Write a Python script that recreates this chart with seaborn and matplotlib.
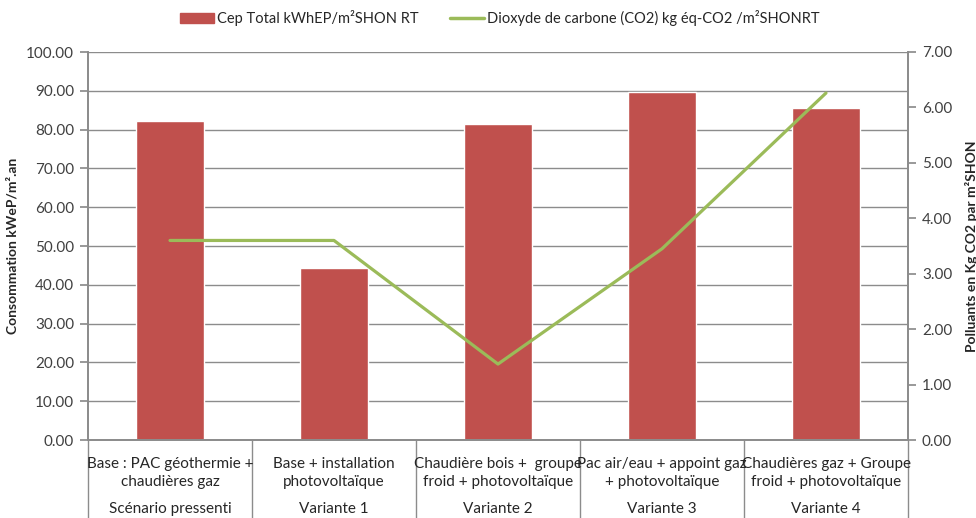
import matplotlib
matplotlib.use("Agg")
import matplotlib.pyplot as plt
import seaborn as sns
import pandas as pd
from matplotlib.lines import Line2D
from matplotlib.patches import Patch

# data
scenarios = ["Base : PAC géothermie +\nchaudières gaz",
             "Base + installation\nphotovoltaïque",
             "Chaudière bois +  groupe\nfroid + photovoltaïque",
             "Pac air/eau + appoint gaz\n+ photovoltaïque",
             "Chaudières gaz + Groupe\nfroid + photovoltaïque"]
groups = ["Scénario pressenti", "Variante 1", "Variante 2", "Variante 3", "Variante 4"]
cep_total = [82.2, 44.3, 81.4, 89.7, 85.6]
co2 = [3.60, 3.60, 1.37, 3.45, 6.26]

bar_color = "#C0504D"
line_color = "#9BBB59"
grey = "#8C8C8C"

df = pd.DataFrame({"pos": range(len(scenarios)), "cep": cep_total, "co2": co2})

sns.set_theme(style="white")
plt.rcParams["font.family"] = ["Lato", "DejaVu Sans"]

fig = plt.figure(figsize=(9.76, 5.18), dpi=100)
ax = fig.add_axes([88 / 976, 78 / 518, 820 / 976, 388 / 518])

sns.barplot(data=df, x="pos", y="cep", color=bar_color, width=0.41,
            saturation=1, ax=ax, native_scale=True)
ax.set_xlim(-0.5, len(scenarios) - 0.5)
ax.set_ylim(0, 100)
ax.set_yticks(range(0, 101, 10))
ax.set_yticklabels([f"{v:.2f}" for v in range(0, 101, 10)], fontsize=11, color="#404040")
ax.yaxis.grid(True, color=grey, linewidth=1)
ax.set_axisbelow(True)
ax.tick_params(axis="y", left=True, length=6, color=grey, pad=4)
ax.set_xticks([])
ax.set_xlabel("")
ax.set_ylabel("Consommation kWeP/m².an", fontsize=10, fontweight="bold")
ax.yaxis.set_label_coords(-0.085, 0.5)
for s in ax.spines.values():
    s.set_color(grey)
ax.spines["top"].set_visible(False)

ax2 = ax.twinx()
sns.lineplot(data=df, x="pos", y="co2", color=line_color, linewidth=2.3, ax=ax2)
ax2.set_ylim(0, 7)
ax2.set_yticks(range(0, 8))
ax2.set_yticklabels([f"{v:.2f}" for v in range(0, 8)], fontsize=11, color="#404040")
ax2.tick_params(axis="y", right=True, length=6, color=grey, pad=4)
ax2.set_ylabel("Polluants en Kg CO2 par m²SHON", fontsize=10, fontweight="bold")
ax2.yaxis.set_label_coords(1.069, 0.5)
ax2.set_xlabel("")
for s in ax2.spines.values():
    s.set_color(grey)
ax2.spines["top"].set_visible(False)

# two-level category axis
tr = ax.get_xaxis_transform()
for i, (lab, grp) in enumerate(zip(scenarios, groups)):
    ax.text(i, -0.045, lab, transform=tr, ha="center", va="top",
            fontsize=11, color="#262626", linespacing=1.3)
    ax.text(i, -0.178, grp, transform=tr, ha="center", va="center",
            fontsize=11, color="#262626")
for b in range(len(scenarios) + 1):
    ax.plot([b - 0.5, b - 0.5], [0, -0.25], transform=tr, color=grey,
            linewidth=1, clip_on=False)

handles = [Patch(color=bar_color), Line2D([0], [0], color=line_color, linewidth=2.5)]
labels = ["Cep Total kWhEP/m²SHON RT", "Dioxyde de carbone (CO2) kg éq-CO2 /m²SHONRT"]
fig.legend(handles, labels, loc="center", bbox_to_anchor=(0.512, 1 - 18 / 518),
           ncol=2, frameon=False, fontsize=10.5, handlelength=2.3,
           handletextpad=0.2, columnspacing=2.2)

fig.savefig("out.png", dpi=100)
